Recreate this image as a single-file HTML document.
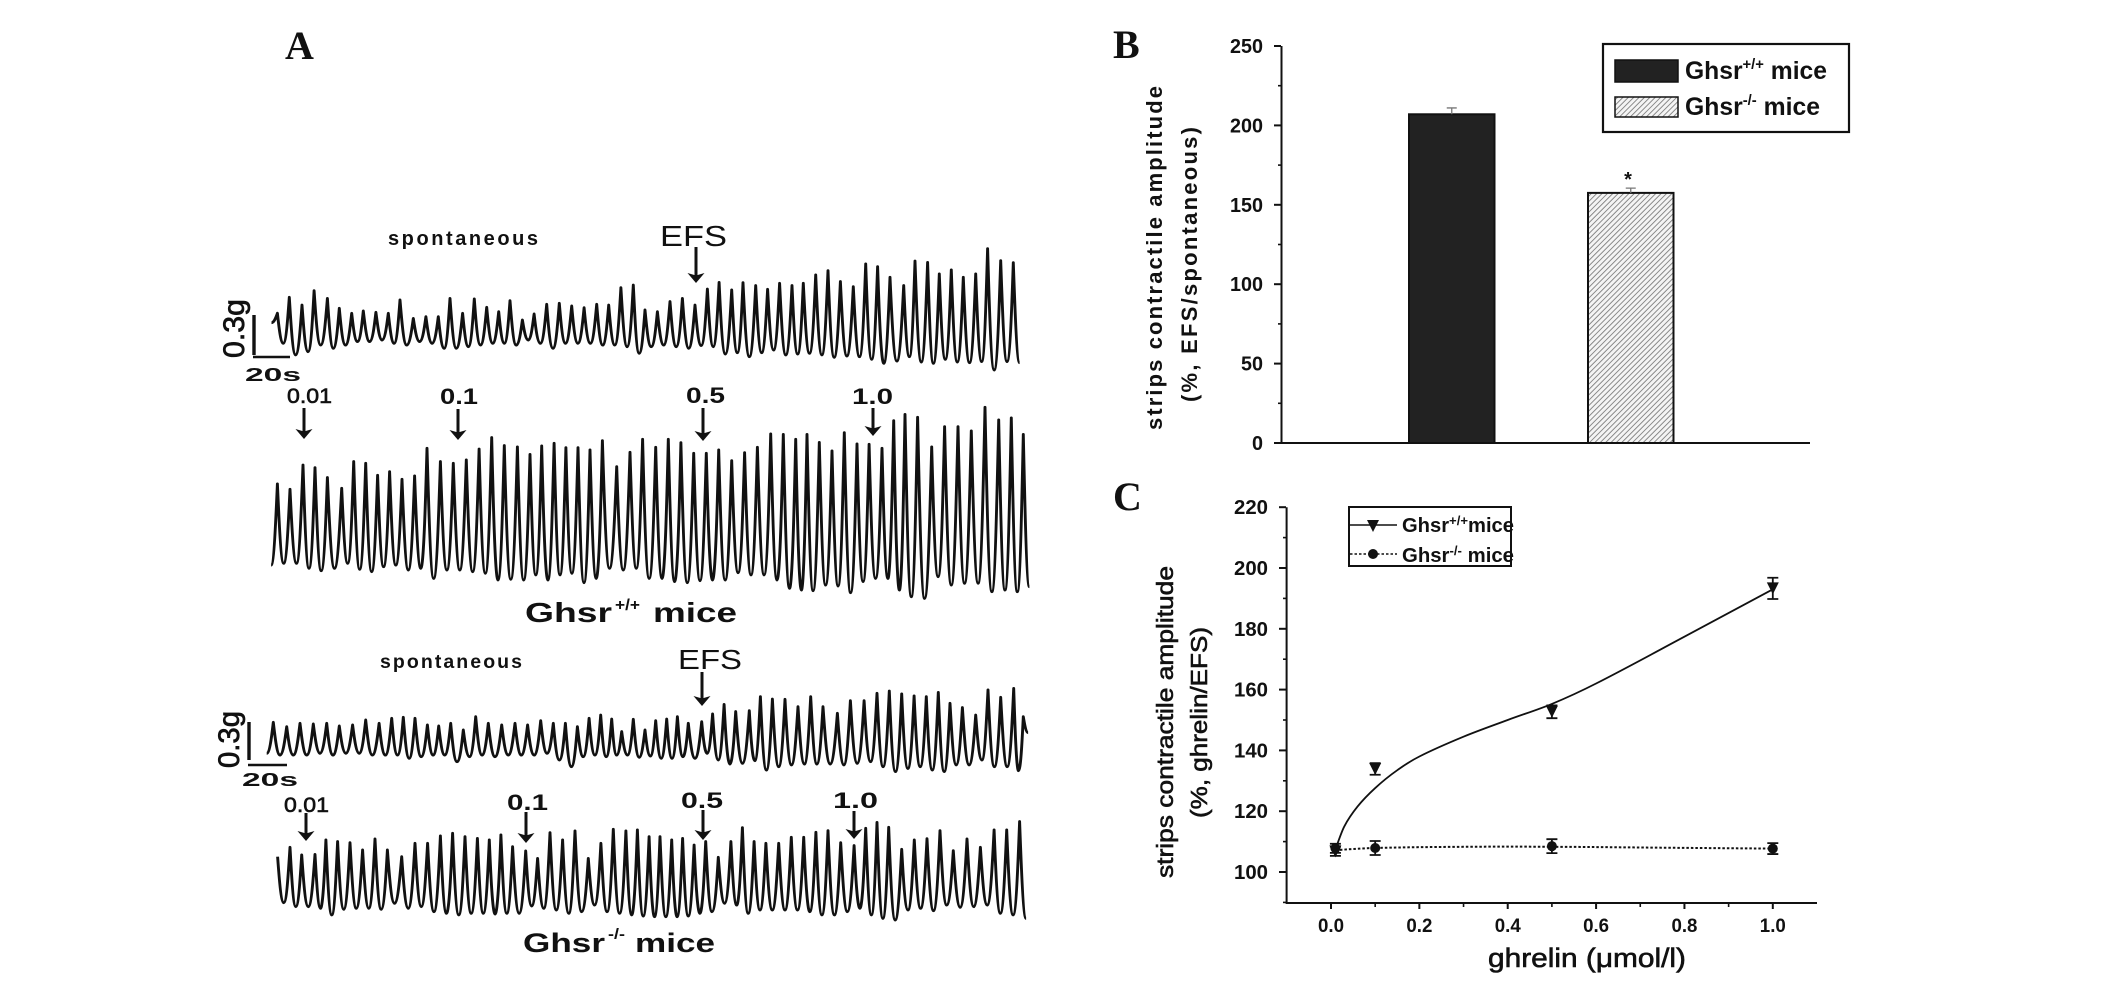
<!DOCTYPE html>
<html lang="en">
<head>
<meta charset="utf-8">
<title>Ghsr mice strip contractility figure</title>
<style>
html,body{margin:0;padding:0;background:#fff;}
svg{display:block;}
text{font-family:"Liberation Sans",sans-serif;fill:#111;}
.panel{font-family:"Liberation Serif",serif;font-weight:bold;font-size:40px;}
.b{font-weight:bold;}
</style>
</head>
<body>
<svg id="fig" xmlns="http://www.w3.org/2000/svg" width="2126" height="993" viewBox="0 0 2126 993">
<defs>
<pattern id="hatch" width="3.8" height="3.8" patternUnits="userSpaceOnUse" patternTransform="rotate(45)">
<rect width="3.8" height="3.8" fill="#f4f4f4"/>
<line x1="0" y1="0" x2="0" y2="3.8" stroke="#808080" stroke-width="1.8"/>
</pattern>
</defs>
<rect width="2126" height="993" fill="#fff"/>

<text class="panel" x="285" y="59">A</text>
<text class="panel" x="1113" y="58">B</text>
<text class="panel" x="1113" y="510">C</text>

<g id="traces"></g>

<!-- Panel A annotations: wild type -->
<text class="b" x="388" y="245" font-size="20" textLength="150" lengthAdjust="spacing">spontaneous</text>
<text x="660" y="246" font-size="29" textLength="67" lengthAdjust="spacingAndGlyphs">EFS</text>
<text transform="translate(244,358) rotate(-90)" font-size="30" textLength="59" lengthAdjust="spacingAndGlyphs" stroke="#111" stroke-width=".7">0.3g</text>
<line x1="254" y1="315" x2="254" y2="355" stroke="#111" stroke-width="3.4"/>
<line x1="253" y1="357" x2="290" y2="357" stroke="#111" stroke-width="2.4"/>
<text class="b" x="245" y="381" font-size="18" textLength="56" lengthAdjust="spacingAndGlyphs">20s</text>
<text x="287" y="403" font-size="21" textLength="45" lengthAdjust="spacingAndGlyphs" stroke="#111" stroke-width=".6">0.01</text>
<text class="b" x="440" y="404" font-size="22" textLength="38" lengthAdjust="spacingAndGlyphs">0.1</text>
<text class="b" x="686" y="403" font-size="22" textLength="39" lengthAdjust="spacingAndGlyphs">0.5</text>
<text class="b" x="852" y="404" font-size="22" textLength="41" lengthAdjust="spacingAndGlyphs">1.0</text>
<text class="b" x="525" y="622" font-size="28" textLength="87" lengthAdjust="spacingAndGlyphs">Ghsr</text>
<text class="b" x="615" y="610" font-size="16" textLength="25" lengthAdjust="spacingAndGlyphs">+/+</text>
<text class="b" x="653" y="622" font-size="28" textLength="84" lengthAdjust="spacingAndGlyphs">mice</text>

<!-- Panel A annotations: knockout -->
<text class="b" x="380" y="668" font-size="19.5" textLength="142" lengthAdjust="spacing">spontaneous</text>
<text x="678" y="669" font-size="28" textLength="64" lengthAdjust="spacingAndGlyphs">EFS</text>
<text transform="translate(239,768) rotate(-90)" font-size="30" textLength="57" lengthAdjust="spacingAndGlyphs" stroke="#111" stroke-width=".7">0.3g</text>
<line x1="249" y1="722" x2="249" y2="760" stroke="#111" stroke-width="3.4"/>
<line x1="248" y1="765" x2="287" y2="765" stroke="#111" stroke-width="2.4"/>
<text class="b" x="242" y="786" font-size="18" textLength="56" lengthAdjust="spacingAndGlyphs">20s</text>
<text x="284" y="812" font-size="21" textLength="45" lengthAdjust="spacingAndGlyphs" stroke="#111" stroke-width=".6">0.01</text>
<text class="b" x="507" y="810" font-size="22" textLength="41" lengthAdjust="spacingAndGlyphs">0.1</text>
<text class="b" x="681" y="808" font-size="22" textLength="42" lengthAdjust="spacingAndGlyphs">0.5</text>
<text class="b" x="833" y="808" font-size="22" textLength="45" lengthAdjust="spacingAndGlyphs">1.0</text>
<text class="b" x="523" y="952" font-size="27" textLength="82" lengthAdjust="spacingAndGlyphs">Ghsr</text>
<text class="b" x="608" y="939" font-size="15" textLength="17" lengthAdjust="spacingAndGlyphs">-/-</text>
<text class="b" x="635" y="952" font-size="27" textLength="80" lengthAdjust="spacingAndGlyphs">mice</text>

<g id="arrows"></g>

<!-- Panel B -->
<g id="chartB"></g>
<text transform="translate(1162,430) rotate(-90)" class="b" font-size="22" textLength="344" lengthAdjust="spacing">strips  contractile  amplitude</text>
<text transform="translate(1197,402) rotate(-90)" class="b" font-size="22" textLength="275" lengthAdjust="spacing">(%, EFS/spontaneous)</text>
<rect x="1603" y="44" width="246" height="88" fill="#fff" stroke="#111" stroke-width="2.2"/>
<rect x="1615" y="60" width="63" height="22" fill="#222" stroke="#111" stroke-width="1.5"/>
<rect x="1615" y="97" width="63" height="20" fill="url(#hatch)" stroke="#111" stroke-width="1.5"/>
<text class="b" x="1685" y="79" font-size="25" textLength="142" lengthAdjust="spacingAndGlyphs">Ghsr<tspan font-size="15" dy="-10">+/+</tspan><tspan dy="10"> mice</tspan></text>
<text class="b" x="1685" y="115" font-size="25" textLength="135" lengthAdjust="spacingAndGlyphs">Ghsr<tspan font-size="15" dy="-10">-/-</tspan><tspan dy="10"> mice</tspan></text>

<!-- Panel C -->
<g id="chartC"></g>
<text transform="translate(1173,878) rotate(-90)" font-size="23" textLength="312" lengthAdjust="spacingAndGlyphs" stroke="#111" stroke-width=".6">strips contractile amplitude</text>
<text transform="translate(1207,818) rotate(-90)" font-size="23" textLength="191" lengthAdjust="spacingAndGlyphs" stroke="#111" stroke-width=".6">(%, ghrelin/EFS)</text>
<text x="1488" y="967" font-size="27" textLength="198" lengthAdjust="spacingAndGlyphs" stroke="#111" stroke-width=".6">ghrelin (μmol/l)</text>
<rect x="1349" y="507" width="162" height="59" fill="none" stroke="#111" stroke-width="2"/>
<line x1="1350" y1="525" x2="1397" y2="525" stroke="#111" stroke-width="1.6"/>
<polygon points="1367,520 1379,520 1373,532" fill="#111"/>
<line x1="1350" y1="554" x2="1397" y2="554" stroke="#111" stroke-width="1.6" stroke-dasharray="2.5 2"/>
<circle cx="1373" cy="554" r="5" fill="#111"/>
<text class="b" x="1402" y="532" font-size="20" textLength="112" lengthAdjust="spacingAndGlyphs">Ghsr<tspan font-size="13" dy="-7">+/+</tspan><tspan dy="7">mice</tspan></text>
<text class="b" x="1402" y="562" font-size="20" textLength="112" lengthAdjust="spacingAndGlyphs">Ghsr<tspan font-size="13" dy="-7">-/-</tspan><tspan dy="7"> mice</tspan></text>
</svg>

<script>
// ---------- Panel A data: peak times (s), peak and trough tension (mg above each trace's reference level) ----------
const wtSpontTimes = [41.8,48.2,55.1,61.6,68.8,75.2,81.9,88.2,95.0,101.7,108.0,115.2,122.0,128.7,135.0,141.8,148.1,154.8,161.3,167.4,174.1,180.4,187.2,194.0,200.7,207.4,214.2,220.7,227.3,234.0,240.3,247.0,253.8,260.5,267.3,274.0,280.3,287.1,293.2,300.1,306.5,313.0,319.7,325.8,332.5,339.1,345.8,352.8,359.5,365.9,372.6,380.0,386.1,392.9,399.2,405.7,412.2,418.9,425.3,432.4,439.2];
const wtSpontPeaks = [450,570,512,620,562,488,450,468,458,450,550,412,425,425,562,450,558,495,462,545,400,445,518,525,505,492,518,512,642,662,475,462,538,562,512,632,682,625,680,658,630,675,658,675,738,770,688,650,820,800,720,658,842,832,745,775,720,745,935,845,830];
const wtSpontTroughs = [380,225,138,162,212,188,212,238,238,250,225,212,238,225,188,188,200,212,225,225,212,250,225,188,225,225,225,212,212,200,150,200,212,200,188,208,200,145,155,125,155,175,138,145,150,138,120,130,125,105,75,92,125,85,75,105,85,80,88,25,88,80];

const wtDoseTimes = [41.8,48.6,55.6,62.1,68.8,76.5,83.0,89.5,95.9,102.4,109.1,115.9,122.6,129.8,136.8,143.8,150.7,157.5,164.3,171.4,178.2,184.5,191.2,197.6,204.1,210.6,217.3,225.0,232.2,239.0,246.1,252.9,259.7,266.6,273.4,280.1,287.1,294.1,301.0,308.2,315.0,321.7,327.8,334.4,341.3,347.9,354.8,361.3,368.3,374.6,380.7,387.5,395.1,402.1,409.3,416.5,423.9,431.3,438.1,444.6];
const wtDosePeaks = [870,830,1012,992,918,838,1038,1025,935,962,905,930,1138,1038,1025,1050,1132,1218,1158,1148,1092,1155,1175,1142,1142,1125,1195,1000,1108,1205,1145,1205,1180,1100,1100,1125,1045,1105,1145,1245,1242,1205,1242,1182,1118,1255,1170,1168,1138,1345,1392,1370,1148,1300,1300,1268,1445,1350,1365,1242];
const wtDoseTroughs = [262,275,275,238,220,238,275,230,212,250,262,225,238,162,225,225,212,200,150,155,150,188,150,188,200,130,162,238,225,238,162,162,138,130,145,150,150,205,188,188,150,88,75,70,112,105,55,138,162,162,75,25,12,175,112,125,125,62,75,62,100];

const koSpontTimes = [39.6,46.8,54.0,61.2,68.4,75.2,82.4,89.5,96.7,103.5,109.8,116.1,122.8,128.9,135.4,142.2,148.9,155.7,162.9,170.1,176.9,184.0,190.8,197.3,203.8,210.1,216.4,222.3,227.7,234.0,240.3,246.1,252.0,257.8,263.7,270.9,276.8,283.0,289.3,296.6,302.6,309.1,315.9,322.9,329.8,336.4,344.2,351.2,358.6,365.6,372.2,378.9,385.6,392.2,398.7,405.0,411.7,418.9,425.5,432.4,439.4,444.6];
const koSpontPeaks = [408,375,400,395,400,380,388,425,400,438,445,438,388,380,400,350,450,400,388,400,388,420,400,400,375,438,462,432,338,430,350,420,432,450,400,412,470,542,488,495,600,582,580,525,600,525,475,570,570,625,642,620,605,600,632,550,518,462,650,595,662,450];
const koSpontTroughs = [175,162,162,162,175,162,175,175,162,162,162,138,150,162,162,112,150,162,150,162,162,162,175,125,75,150,162,150,162,162,145,155,138,138,150,138,175,125,95,100,120,50,75,88,95,95,95,88,100,112,75,38,62,75,50,38,88,88,125,75,75,45,330];

const koDoseTimes = [41.9,48.6,54.9,62.1,68.0,74.3,81.0,87.8,94.5,101.2,108.9,116.1,122.9,129.8,136.4,143.1,149.8,156.2,162.5,168.8,175.9,182.3,189.0,195.8,202.5,209.7,216.5,223.2,230.0,236.2,242.5,248.4,254.7,260.6,266.8,273.1,279.9,286.7,292.9,299.2,305.6,312.5,319.3,326.0,332.6,339.1,346.0,353.2,359.5,365.6,371.9,378.9,385.7,392.6,399.6,406.8,414.2,421.4,428.8,435.6,442.6];
const koDosePeaks = [525,595,538,542,650,638,630,575,658,575,525,625,625,680,700,675,662,650,688,600,568,512,705,650,718,512,625,730,718,725,675,675,650,662,612,638,520,638,742,638,625,625,670,670,708,720,630,608,738,782,745,580,650,660,720,570,658,595,725,725,788];
const koDoseTroughs = [525,180,150,150,138,88,130,138,138,130,175,138,150,112,100,88,100,100,95,100,100,155,138,125,100,112,162,112,100,88,80,75,75,75,80,100,112,175,162,100,125,125,125,125,112,88,88,112,138,88,62,50,125,138,120,162,145,150,162,100,88,62];

// ---------- Panel B data ----------
const barCategories = ['Ghsr+/+ mice','Ghsr-/- mice'];
const barValues = [207,157.5];
const barErrors = [4,3];
const barTickLabels = ['0','50','100','150','200','250'];

// ---------- Panel C data ----------
const doses = [0.01,0.1,0.5,1.0];
const wtMeans = [106.8,133.9,152.7,193.3];
const wtErrors = [1.5,1.9,2.1,3.5];
const koMeans = [107.8,107.9,108.5,107.7];
const koErrors = [1.5,2.3,2.3,1.8];
const wtFitDoses = [0.01,0.03,0.06,0.1,0.15,0.2,0.3,0.4,0.5,0.6,0.8,1.0];
const wtFitValues = [107.5,115,121.5,127.6,133.5,138,144.5,150,155.3,162,177.4,193];
const koFitDoses = [0.01,0.1,0.3,0.5,0.75,1.0];
const koFitValues = [107.2,107.9,108.3,108.3,108,107.7];
const xTickLabels = ['0.0','0.2','0.4','0.6','0.8','1.0'];
const yTickLabels = ['100','120','140','160','180','200','220'];

const NS = 'http://www.w3.org/2000/svg';
function make(parent, tag, attrs, txt){
  const e = document.createElementNS(NS, tag);
  for (const k in attrs) e.setAttribute(k, attrs[k]);
  if (txt !== undefined) e.textContent = txt;
  parent.appendChild(e);
  return e;
}

// ---------- Panel A ----------
const tx = t => 200 + t * 1.85185;
const forceScale = (mg, base) => base - mg * 0.13333;
function tracePath(times, peaks, troughs, base){
  const n = times.length;
  const tt = [times[0] - (times[1] - times[0]) / 2];
  for (let i = 1; i < n; i++) tt.push((times[i - 1] + times[i]) / 2);
  tt.push(times[n - 1] + (times[n - 1] - times[n - 2]) / 2);
  const startAtPeak = troughs[0] >= peaks[0];
  let d = startAtPeak
    ? 'M' + tx(times[0]).toFixed(1) + ' ' + forceScale(peaks[0], base).toFixed(1)
    : 'M' + tx(tt[0]).toFixed(1) + ' ' + forceScale(troughs[0], base).toFixed(1);
  for (let i = 0; i < n; i++){
    const x0 = tx(tt[i]), y0 = forceScale(troughs[i], base);
    const xp = tx(times[i]), yp = forceScale(peaks[i], base);
    const x1 = tx(tt[i + 1]), y1 = forceScale(troughs[i + 1], base);
    const a = xp - x0, b = x1 - xp;
    if (!(i === 0 && startAtPeak)) {
      d += 'C' + (x0 + a * .45).toFixed(1) + ' ' + y0.toFixed(1) + ' ' + (xp - a * .25).toFixed(1) + ' ' + (yp + (y0 - yp) * .45).toFixed(1) + ' ' + xp.toFixed(1) + ' ' + yp.toFixed(1);
    }
    d += 'C' + (xp + b * .25).toFixed(1) + ' ' + (yp + (y1 - yp) * .45).toFixed(1) + ' ' + (x1 - b * .45).toFixed(1) + ' ' + y1.toFixed(1) + ' ' + x1.toFixed(1) + ' ' + y1.toFixed(1);
  }
  return d;
}
const tracesG = document.getElementById('traces');
function drawTrace(name, times, peaks, troughs, base){
  const p = make(tracesG, 'path', {d: tracePath(times, peaks, troughs, base), fill: 'none', stroke: '#111', 'stroke-width': 2.9, 'stroke-linejoin': 'round'});
  
  
}
drawTrace('trace-wt-spontaneous', wtSpontTimes, wtSpontPeaks, wtSpontTroughs, 373.33);
drawTrace('trace-wt-ghrelin', wtDoseTimes, wtDosePeaks, wtDoseTroughs, 600);
drawTrace('trace-ko-spontaneous', koSpontTimes, koSpontPeaks, koSpontTroughs, 776.67);
drawTrace('trace-ko-ghrelin', koDoseTimes, koDosePeaks, koDoseTroughs, 926.67);

const arrowsG = document.getElementById('arrows');
function arrow(x, y1, y2){
  const g = make(arrowsG, 'g', {});
  
  
  make(g, 'line', {x1: x, y1: y1, x2: x, y2: y2 - 6, stroke: '#111', 'stroke-width': 3});
  make(g, 'polygon', {points: (x - 8.5) + ',' + (y2 - 10) + ' ' + x + ',' + (y2 - 7.5) + ' ' + (x + 8.5) + ',' + (y2 - 10) + ' ' + x + ',' + y2, fill: '#111'});
}
arrow(696,247,283); arrow(304,408,439); arrow(458,409,440); arrow(703,408,441); arrow(873,408,436);
arrow(702,672,706); arrow(306,813,841); arrow(526,812,843); arrow(703,810,840); arrow(854,811,839);

// ---------- Panel B ----------
const bG = document.getElementById('chartB');
const by = v => 443 - v * 1.588;
const barX = [1409,1588];
barValues.forEach((v, i) => {
  const r = make(bG, 'rect', {x: barX[i], y: by(v), width: 85.5, height: 443 - by(v), fill: i === 0 ? '#222' : 'url(#hatch)', stroke: '#111', 'stroke-width': 2});
  
  
  const cx = barX[i] + 42.75;
  const eb = make(bG, 'path', {d: 'M' + cx + ' ' + by(v) + 'V' + by(v + barErrors[i]) + 'M' + (cx - 5) + ' ' + by(v + barErrors[i]) + 'H' + (cx + 5), stroke: '#777', 'stroke-width': 1.3, fill: 'none'});
  
  
});
const bAxes = make(bG, 'path', {d: 'M1281.5 ' + by(250) + 'V443M1275 443H1810', stroke: '#111', 'stroke-width': 2, fill: 'none'});


barTickLabels.forEach(l => {
  const v = +l;
  const tick = make(bG, 'line', {x1: 1274, x2: 1281, y1: by(v), y2: by(v), stroke: '#111', 'stroke-width': 2});
  
  
  const t = make(bG, 'text', {x: 1263, y: by(v) + 7, 'text-anchor': 'end', 'font-size': 20, 'font-weight': 'bold', textLength: l.length * 11, lengthAdjust: 'spacingAndGlyphs'}, l);
  
  
  if (v < 250){
    const minor = make(bG, 'line', {x1: 1278, x2: 1281, y1: by(v + 25), y2: by(v + 25), stroke: '#111', 'stroke-width': 1.6});
    
    
  }
});
const star = make(bG, 'text', {x: 1628, y: 186, 'text-anchor': 'middle', 'font-size': 20, 'font-weight': 'bold'}, '*');



// ---------- Panel C ----------
const cG = document.getElementById('chartC');
const cx = d => 1331 + d * 441.8;
const cy = v => 872 - (v - 100) * 3.04;
const cAxes = make(cG, 'path', {d: 'M1286.6 ' + cy(220) + 'V903.5M1285.6 903H1817', stroke: '#111', 'stroke-width': 2, fill: 'none'});


yTickLabels.forEach(l => {
  const v = +l;
  const tick = make(cG, 'line', {x1: 1279, x2: 1286, y1: cy(v), y2: cy(v), stroke: '#111', 'stroke-width': 2});
  
  
  const t = make(cG, 'text', {x: 1268, y: cy(v) + 7, 'text-anchor': 'end', 'font-size': 20, 'font-weight': 'bold', textLength: 34, lengthAdjust: 'spacingAndGlyphs'}, l);
  
  
  const minor = make(cG, 'line', {x1: 1283, x2: 1286, y1: cy(v - 10), y2: cy(v - 10), stroke: '#111', 'stroke-width': 1.6});
  
  
});
xTickLabels.forEach(l => {
  const v = +l;
  const tick = make(cG, 'line', {x1: cx(v), x2: cx(v), y1: 903, y2: 909, stroke: '#111', 'stroke-width': 2});
  
  
  const t = make(cG, 'text', {x: cx(v), y: 932, 'text-anchor': 'middle', 'font-size': 19.5, 'font-weight': 'bold', textLength: 26, lengthAdjust: 'spacingAndGlyphs'}, l);
  
  
  if (v < 1){
    const minor = make(cG, 'line', {x1: cx(v + 0.1), x2: cx(v + 0.1), y1: 903, y2: 907, stroke: '#111', 'stroke-width': 1.6});
    
    
  }
});
// Smooth curve through the read fit points, with tangents that respect uneven dose spacing
function spline(xs, ys){
  const P = xs.map((d, i) => [cx(d), cy(ys[i])]);
  const n = P.length;
  const slope = i => {
    const a = P[Math.max(i - 1, 0)], b = P[Math.min(i + 1, n - 1)];
    return (b[1] - a[1]) / (b[0] - a[0]);
  };
  let s = 'M' + P[0][0].toFixed(1) + ' ' + P[0][1].toFixed(1);
  for (let i = 0; i < n - 1; i++){
    const h = (P[i + 1][0] - P[i][0]) / 3;
    s += 'C' + (P[i][0] + h).toFixed(1) + ' ' + (P[i][1] + slope(i) * h).toFixed(1) + ' ' + (P[i + 1][0] - h).toFixed(1) + ' ' + (P[i + 1][1] - slope(i + 1) * h).toFixed(1) + ' ' + P[i + 1][0].toFixed(1) + ' ' + P[i + 1][1].toFixed(1);
  }
  return s;
}
const wtLine = make(cG, 'path', {d: spline(wtFitDoses, wtFitValues), fill: 'none', stroke: '#111', 'stroke-width': 1.8});


const koLine = make(cG, 'path', {d: spline(koFitDoses, koFitValues), fill: 'none', stroke: '#111', 'stroke-width': 2, 'stroke-dasharray': '2.5 2'});


function errorBar(d, m, e, name){
  const x = cx(d), hi = cy(m + e), lo = cy(m - e);
  const p = make(cG, 'path', {d: 'M' + x + ' ' + hi + 'V' + lo + 'M' + (x - 5.5) + ' ' + hi + 'H' + (x + 5.5) + 'M' + (x - 5.5) + ' ' + lo + 'H' + (x + 5.5), stroke: '#111', 'stroke-width': 1.8, fill: 'none'});
  
  
}
doses.forEach((d, i) => {
  errorBar(d, wtMeans[i], wtErrors[i], 'error-bar-c-wt');
  errorBar(d, koMeans[i], koErrors[i], 'error-bar-c-ko');
  const x = cx(d), yw = cy(wtMeans[i]), yk = cy(koMeans[i]);
  const tri = make(cG, 'polygon', {points: (x - 6) + ',' + (yw - 6) + ' ' + (x + 6) + ',' + (yw - 6) + ' ' + x + ',' + (yw + 6), fill: '#111'});
  
  
  const dot = make(cG, 'circle', {cx: x, cy: yk, r: 5, fill: '#111'});
  
  
});
</script>
</body>
</html>
